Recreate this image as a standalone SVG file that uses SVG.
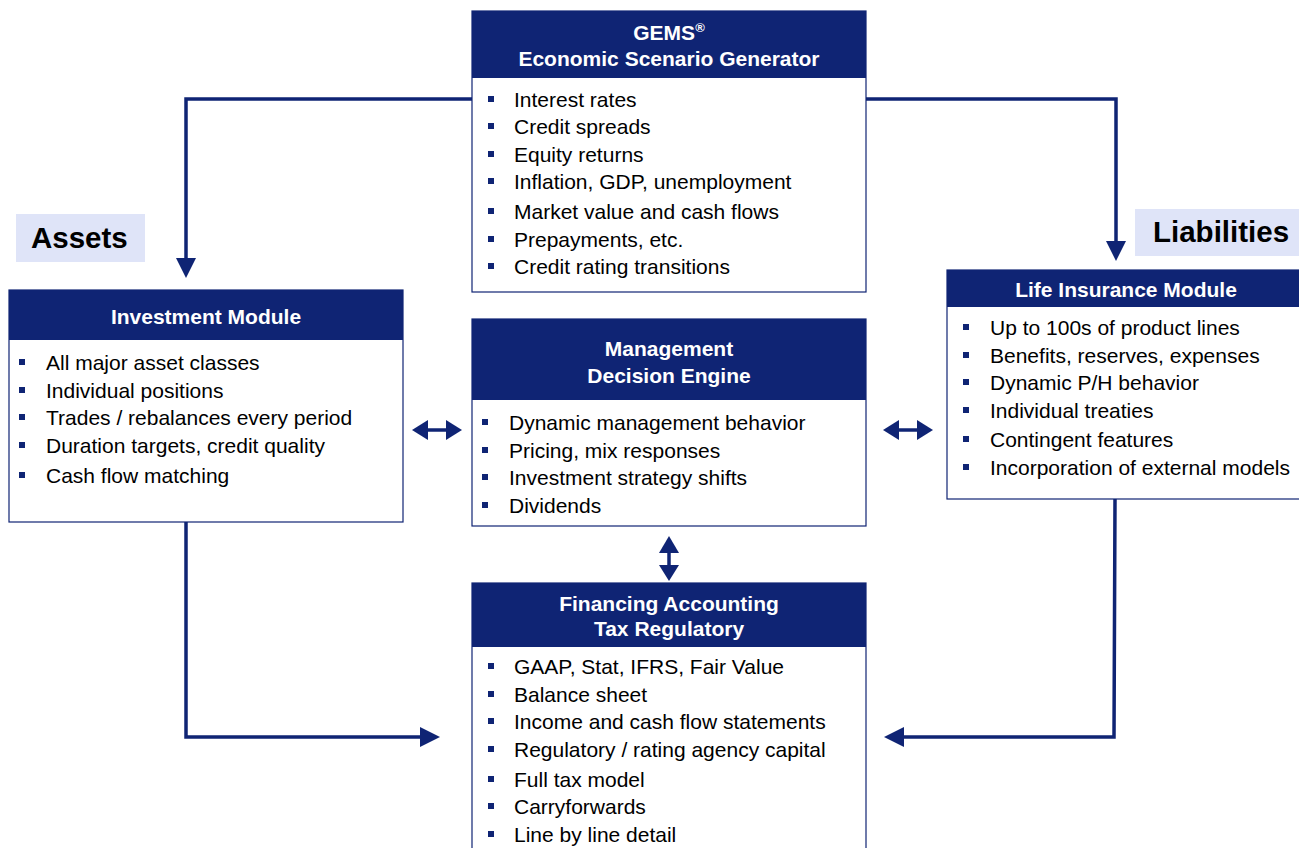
<svg xmlns="http://www.w3.org/2000/svg" width="1299" height="848" viewBox="0 0 1299 848">
<defs>
<style>
.box{fill:#fff;stroke:#0f2474;stroke-width:1.2}
.hdr{fill:#0f2474}
.ht{font-family:"Liberation Sans",Arial,sans-serif;font-weight:bold;font-size:21px;fill:#fff;text-anchor:middle}
.bt{font-family:"Liberation Sans",Arial,sans-serif;font-size:21px;fill:#000}
.bul{fill:#0f2474}
.lbl{fill:#dfe4f8}
.lt{font-family:"Liberation Sans",Arial,sans-serif;font-weight:bold;font-size:29.5px;fill:#000}
.con{fill:none;stroke:#0f2474;stroke-width:3.5}
.ah{fill:#0f2474}
</style>
</defs>
<rect width="1299" height="848" fill="#fff"/>

<g id="connectors">
<polyline class="con" points="472,99 186,99 186,262"/>
<polygon class="ah" points="176,258 196,258 186,278"/>
<polyline class="con" points="866,99 1116,99 1116,246"/>
<polygon class="ah" points="1106,241 1126,241 1116,261"/>
<polyline class="con" points="186,522 186,737 424,737"/>
<polygon class="ah" points="420,727 440,737 420,747"/>
<polyline class="con" points="1115,499 1114,737 900,737"/>
<polygon class="ah" points="904,727 884,737 904,747"/>
<line class="con" x1="424" y1="430" x2="450" y2="430"/>
<polygon class="ah" points="428,420 412,430 428,440"/>
<polygon class="ah" points="446,420 462,430 446,440"/>
<line class="con" x1="895" y1="430" x2="921" y2="430"/>
<polygon class="ah" points="899,420 883,430 899,440"/>
<polygon class="ah" points="917,420 933,430 917,440"/>
<line class="con" x1="669" y1="550" x2="669" y2="568"/>
<polygon class="ah" points="659,553 669,536 679,553"/>
<polygon class="ah" points="659,565 669,581 679,565"/>
</g>

<g id="assets-label">
<rect class="lbl" x="16" y="214" width="129" height="48"/>
<text class="lt" x="31" y="248">Assets</text>
</g>
<g id="liabilities-label">
<rect class="lbl" x="1135" y="209" width="164" height="47"/>
<text class="lt" x="1153" y="242">Liabilities</text>
</g>

<g id="gems">
<rect class="box" x="472" y="11" width="394" height="281"/>
<rect class="hdr" x="472" y="11" width="394" height="67"/>
<text class="ht" x="669" y="40">GEMS<tspan font-size="13" dy="-8">®</tspan></text>
<text class="ht" x="669" y="66">Economic Scenario Generator</text>
<rect class="bul" x="488" y="96" width="6" height="6"/><text class="bt" x="514" y="107">Interest rates</text>
<rect class="bul" x="488" y="123" width="6" height="6"/><text class="bt" x="514" y="134">Credit spreads</text>
<rect class="bul" x="488" y="151" width="6" height="6"/><text class="bt" x="514" y="162">Equity returns</text>
<rect class="bul" x="488" y="178" width="6" height="6"/><text class="bt" x="514" y="189">Inflation, GDP, unemployment</text>
<rect class="bul" x="488" y="208" width="6" height="6"/><text class="bt" x="514" y="219">Market value and cash flows</text>
<rect class="bul" x="488" y="236" width="6" height="6"/><text class="bt" x="514" y="247">Prepayments, etc.</text>
<rect class="bul" x="488" y="263" width="6" height="6"/><text class="bt" x="514" y="274">Credit rating transitions</text>
</g>

<g id="investment">
<rect class="box" x="9" y="290" width="394" height="232"/>
<rect class="hdr" x="9" y="290" width="394" height="50"/>
<text class="ht" x="206" y="324">Investment Module</text>
<rect class="bul" x="19" y="359" width="6" height="6"/><text class="bt" x="46" y="370">All major asset classes</text>
<rect class="bul" x="19" y="387" width="6" height="6"/><text class="bt" x="46" y="398">Individual positions</text>
<rect class="bul" x="19" y="414" width="6" height="6"/><text class="bt" x="46" y="425">Trades / rebalances every period</text>
<rect class="bul" x="19" y="442" width="6" height="6"/><text class="bt" x="46" y="453">Duration targets, credit quality</text>
<rect class="bul" x="19" y="472" width="6" height="6"/><text class="bt" x="46" y="483">Cash flow matching</text>
</g>

<g id="management">
<rect class="box" x="472" y="319" width="394" height="207"/>
<rect class="hdr" x="472" y="319" width="394" height="81"/>
<text class="ht" x="669" y="356">Management</text>
<text class="ht" x="669" y="383">Decision Engine</text>
<rect class="bul" x="482" y="419" width="6" height="6"/><text class="bt" x="509" y="430">Dynamic management behavior</text>
<rect class="bul" x="482" y="447" width="6" height="6"/><text class="bt" x="509" y="458">Pricing, mix responses</text>
<rect class="bul" x="482" y="474" width="6" height="6"/><text class="bt" x="509" y="485">Investment strategy shifts</text>
<rect class="bul" x="482" y="502" width="6" height="6"/><text class="bt" x="509" y="513">Dividends</text>
</g>

<g id="life">
<rect class="box" x="947" y="270" width="360" height="229"/>
<rect class="hdr" x="947" y="270" width="352" height="37"/>
<text class="ht" x="1126" y="297">Life Insurance Module</text>
<rect class="bul" x="963" y="324" width="6" height="6"/><text class="bt" x="990" y="335">Up to 100s of product lines</text>
<rect class="bul" x="963" y="352" width="6" height="6"/><text class="bt" x="990" y="363">Benefits, reserves, expenses</text>
<rect class="bul" x="963" y="379" width="6" height="6"/><text class="bt" x="990" y="390">Dynamic P/H behavior</text>
<rect class="bul" x="963" y="407" width="6" height="6"/><text class="bt" x="990" y="418">Individual treaties</text>
<rect class="bul" x="963" y="436" width="6" height="6"/><text class="bt" x="990" y="447">Contingent features</text>
<rect class="bul" x="963" y="464" width="6" height="6"/><text class="bt" x="990" y="475">Incorporation of external models</text>
</g>

<g id="financing">
<rect class="box" x="472" y="583" width="394" height="275"/>
<rect class="hdr" x="472" y="583" width="394" height="64"/>
<text class="ht" x="669" y="611">Financing Accounting</text>
<text class="ht" x="669" y="636">Tax Regulatory</text>
<rect class="bul" x="488" y="663" width="6" height="6"/><text class="bt" x="514" y="674">GAAP, Stat, IFRS, Fair Value</text>
<rect class="bul" x="488" y="691" width="6" height="6"/><text class="bt" x="514" y="702">Balance sheet</text>
<rect class="bul" x="488" y="718" width="6" height="6"/><text class="bt" x="514" y="729">Income and cash flow statements</text>
<rect class="bul" x="488" y="746" width="6" height="6"/><text class="bt" x="514" y="757">Regulatory / rating agency capital</text>
<rect class="bul" x="488" y="776" width="6" height="6"/><text class="bt" x="514" y="787">Full tax model</text>
<rect class="bul" x="488" y="803" width="6" height="6"/><text class="bt" x="514" y="814">Carryforwards</text>
<rect class="bul" x="488" y="831" width="6" height="6"/><text class="bt" x="514" y="842">Line by line detail</text>
</g>
</svg>
